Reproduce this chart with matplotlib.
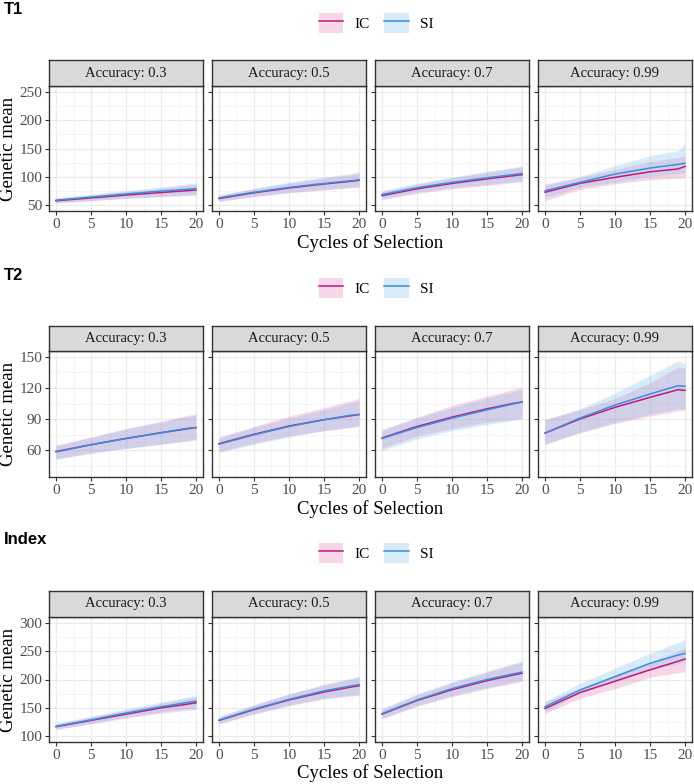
import matplotlib
matplotlib.use("Agg")
import matplotlib.pyplot as plt
from matplotlib.patches import Patch
from matplotlib.lines import Line2D
from matplotlib.ticker import MultipleLocator
import numpy as np

## Data (cycles of selection, one row per accuracy)
cycles = [0, 5, 10, 15, 19, 20]
accuracies = ["0.3", "0.5", "0.7", "0.99"]
traits = ["T1", "T2", "Index"]

t1_ic_mean = [[58, 63, 68, 72.5, 76, 77],
              [62, 72, 80.5, 87.5, 92.5, 94],
              [67, 79, 88.5, 96.5, 102.5, 104],
              [73, 88.7, 99.3, 109, 114, 118.5]]
t1_si_mean = [[59, 64.5, 70, 75, 78.5, 79.5],
              [63, 73, 81.5, 88.5, 93.5, 95],
              [69, 81, 90.5, 98.5, 104.5, 106],
              [75.7, 90.4, 105, 115.6, 122, 124]]
t1_ic_lo = [[54, 58, 62, 65, 67, 68],
            [57, 65, 72, 77, 81, 82],
            [60, 71, 79, 85, 90, 91],
            [58, 78, 88, 95, 98, 99]]
t1_ic_hi = [[62, 68, 74, 80, 86, 87],
            [67, 79, 89, 98, 104, 106],
            [74, 87, 98, 108, 116, 118],
            [87.5, 99, 113, 127, 134, 137]]
t1_si_lo = [[55, 59, 63, 66, 69, 70],
            [58, 66, 73, 78, 82, 83],
            [62, 73, 81, 87, 92, 93],
            [64, 82, 91, 101, 106, 108]]
t1_si_hi = [[63, 69.5, 76, 82, 88, 89],
            [68, 80, 91, 100, 106, 109],
            [76, 89, 100, 110, 117, 120],
            [84.5, 101, 120, 137, 146, 158]]

t2_ic_mean = [[59, 65.5, 71.5, 77, 81, 82],
              [66.5, 75.5, 83.5, 89.5, 93.5, 94.5],
              [72, 83, 92, 100, 105.5, 106.5],
              [76.7, 90.2, 101.4, 111, 118.3, 117.7]]
t2_si_mean = [[58.5, 65.5, 71.5, 77, 81.5, 82],
              [66, 75, 83, 89.5, 94, 94.5],
              [71.5, 82, 91, 99, 105, 106.5],
              [76.7, 91.1, 103.6, 114.2, 122.2, 121.6]]
t2_ic_lo = [[52, 58, 62, 66, 69, 70],
            [59, 67, 74, 79, 82, 83],
            [62, 74, 81, 87, 90, 91],
            [66, 77, 86, 93, 98, 99]]
t2_ic_hi = [[65, 73, 81, 88, 94, 95],
            [73, 83, 93, 101, 108, 110],
            [80, 92, 103, 112, 119, 121],
            [89.5, 99, 110, 125, 140, 139.5]]
t2_si_lo = [[51.5, 57, 62, 66, 70, 71],
            [58, 66, 73, 79, 83, 84],
            [60, 71, 79, 85, 89, 90],
            [66, 77.5, 87, 95, 100, 100]]
t2_si_hi = [[64.5, 72.5, 80.5, 87, 93, 94],
            [72, 82, 91, 99, 106, 107],
            [79, 91, 101, 110, 117, 118],
            [89.5, 100, 115, 132, 146, 143]]

idx_ic_mean = [[117, 128, 139, 150, 157, 159],
               [128, 147, 164, 178, 187, 189],
               [139, 163, 182, 198, 208.5, 211],
               [149, 177, 197, 217, 232, 236]]
idx_si_mean = [[117.5, 129, 141, 152, 160, 162],
               [128.5, 148, 165, 180, 189, 191],
               [140, 164, 184, 200, 210.5, 213],
               [152, 181.5, 205, 228.5, 243, 246]]
idx_ic_lo = [[112, 122, 132, 141, 146, 147],
             [122, 139, 154, 166, 171, 172],
             [131, 153, 170, 184, 194, 197],
             [140, 167, 184, 204, 212, 214]]
idx_ic_hi = [[122, 134, 146, 158, 167, 169],
             [134, 155, 174, 190, 201, 204],
             [147, 173, 194, 213, 227, 230],
             [160, 185, 208, 231, 250, 257]]
idx_si_lo = [[113, 123, 134, 143, 149, 150],
             [123, 140, 155, 167, 173, 175],
             [132, 154, 172, 186, 196, 199],
             [143, 176, 196, 217, 228, 231]]
idx_si_hi = [[123, 135, 148, 160, 170, 172],
             [135, 156, 175, 192, 203, 206],
             [149, 175, 196, 215, 229, 233],
             [162, 193, 220, 246, 265, 270]]

y_limits = [(50, 250), (40, 150), (100, 300)]
y_steps = [50, 30, 50]

## Colours and fonts
ic_col = "#C2187A"
si_col = "#3A8FDB"
ic_fill = "#D9368F"
si_fill = "#7EC0EE"
serif = ["Liberation Serif", "DejaVu Serif"]

W, H = 694, 784
fig = plt.figure(figsize=(W / 100, H / 100), dpi=100)

def px_axes(x0, y0, x1, y1):
    # pixel box (top-left origin) -> figure axes
    return fig.add_axes([x0 / W, 1 - y1 / H, (x1 - x0) / W, (y1 - y0) / H])

panel_x = [(49, 203), (212, 366), (375, 529), (538, 692)]
# strip top, panel top, panel bottom, title y, legend y, ticklabel y, xlabel y
block_y = [(60, 86, 211, 9, 23, 225, 243),
           (326, 351, 477, 276, 288, 490, 509),
           (591, 617, 742, 540, 553, 755, 773)]

all_data = [
    (t1_ic_mean, t1_si_mean, t1_ic_lo, t1_ic_hi, t1_si_lo, t1_si_hi),
    (t2_ic_mean, t2_si_mean, t2_ic_lo, t2_ic_hi, t2_si_lo, t2_si_hi),
    (idx_ic_mean, idx_si_mean, idx_ic_lo, idx_ic_hi, idx_si_lo, idx_si_hi),
]

for b, trait in enumerate(traits):
    st, pt, pb, ty, ly, tly, xly = block_y[b]
    ic_m, si_m, ic_lo, ic_hi, si_lo, si_hi = all_data[b]
    lo, hi = y_limits[b]
    pad = (hi - lo) * 0.05
    for k, acc in enumerate(accuracies):
        x0, x1 = panel_x[k]
        ax = px_axes(x0, pt, x1, pb)
        ax.fill_between(cycles, ic_lo[k], ic_hi[k], color=ic_fill, alpha=0.2, lw=0)
        ax.fill_between(cycles, si_lo[k], si_hi[k], color=si_fill, alpha=0.3, lw=0)
        ax.plot(cycles, ic_m[k], color=ic_col, lw=1.1)
        ax.plot(cycles, si_m[k], color=si_col, lw=1.1)
        ax.set_xlim(-1, 21)
        ax.set_ylim(lo - pad, hi + pad)
        ax.xaxis.set_major_locator(MultipleLocator(5))
        ax.xaxis.set_minor_locator(MultipleLocator(2.5))
        ax.yaxis.set_major_locator(MultipleLocator(y_steps[b]))
        ax.yaxis.set_minor_locator(MultipleLocator(y_steps[b] / 2))
        ax.grid(which="major", color="#EBEBEB", lw=0.9)
        ax.grid(which="minor", color="#F2F2F2", lw=0.5)
        ax.set_axisbelow(True)
        for s in ax.spines.values():
            s.set_color("#333333")
            s.set_linewidth(1.0)
        ax.tick_params(which="minor", length=0)
        ax.tick_params(which="major", length=3, color="#333333", width=0.8,
                       labelsize=11, labelcolor="#4D4D4D", pad=2)
        for lab in ax.get_xticklabels() + ax.get_yticklabels():
            lab.set_family(serif)
        if k > 0:
            ax.set_yticklabels([])
        # facet strip
        sax = px_axes(x0, st, x1, pt)
        sax.set_facecolor("#D9D9D9")
        sax.set_xticks([])
        sax.set_yticks([])
        for s in sax.spines.values():
            s.set_color("#333333")
            s.set_linewidth(1.0)
        sax.text(0.5, 0.5, "Accuracy: " + acc, ha="center", va="center",
                 fontsize=10.5, family=serif, color="#1A1A1A", transform=sax.transAxes)

    # axis titles
    fig.text(9 / W, 1 - ((pt + pb) / 2) / H, "Genetic mean", rotation=90,
             ha="center", va="center", fontsize=13.5, family=serif)
    fig.text(370 / W, 1 - xly / H, "Cycles of Selection", ha="center", va="center",
             fontsize=13.5, family=serif)
    fig.text(4 / W, 1 - ty / H, trait, ha="left", va="center", fontsize=12,
             fontweight="bold", family=["Liberation Sans", "DejaVu Sans"])

    # legend
    handles = [(Patch(facecolor=ic_fill, alpha=0.2, lw=0), Line2D([], [], color=ic_col, lw=1.1)),
               (Patch(facecolor=si_fill, alpha=0.3, lw=0), Line2D([], [], color=si_col, lw=1.1))]
    fig.legend(handles, ["IC", "SI"], loc="center", ncol=2, frameon=False,
               bbox_to_anchor=(376 / W, 1 - ly / H), handlelength=1.6, handleheight=1.6,
               handletextpad=0.7, columnspacing=1.0, prop={"family": serif, "size": 11})

fig.savefig("out.png", dpi=100)
